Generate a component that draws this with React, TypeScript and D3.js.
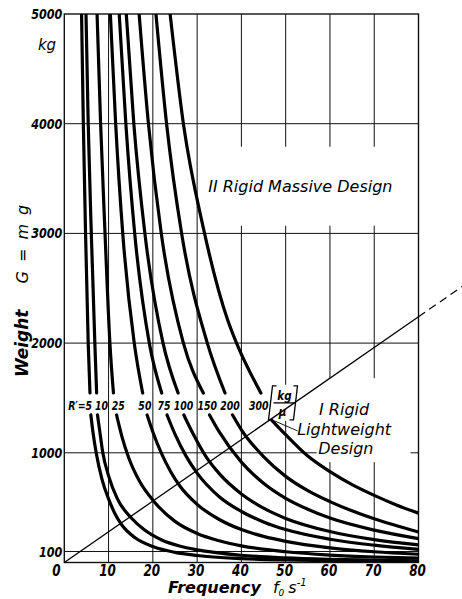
import * as d3 from 'd3';

type Pt = [number, number] | null;

// frequency f0 (s^-1) vs weight G (kg); null = gap where the label sits
const r5: Pt[] = [[3.9, 5000], [4.3, 4000], [4.8, 3000], [5.4, 2000], [5.8, 1545], null, [6.0, 1345], [6.5, 1180], [7.2, 1000], [8.5, 760], [10, 580], [11.5, 440], [13, 342], [16, 225], [20, 145], [25, 92], [30, 64], [40, 36], [50, 23], [60, 16], [70, 12], [80, 9]];
const r10: Pt[] = [[4.9, 5000], [5.4, 4000], [6.1, 3000], [6.9, 2000], [7.3, 1545], null, [7.5, 1345], [8.0, 1200], [8.7, 1000], [10, 790], [12, 580], [15.2, 403], [18, 300], [22, 205], [26, 150], [30, 115], [40, 66], [50, 42], [60, 29], [70, 21], [80, 16]];
const r25: Pt[] = [[7.4, 5000], [8.2, 4000], [9.2, 3000], [10.3, 2000], [11.1, 1545], null, [11.8, 1345], [13, 1150], [14.5, 960], [17, 740], [20.3, 554], [25, 375], [30, 265], [35, 198], [40, 152], [50, 98], [60, 68], [70, 50], [80, 39]];
const r50: Pt[] = [[10.4, 5000], [11.6, 4000], [13.2, 3000], [15.8, 2000], [17.7, 1545], null, [18.7, 1345], [20, 1190], [22, 990], [24, 830], [26.1, 697], [30, 530], [35, 392], [40, 300], [45, 238], [50, 193], [60, 134], [70, 98], [80, 75]];
const r75: Pt[] = [[12.4, 5000], [13.9, 4000], [15.9, 3000], [19.2, 2000], [22.0, 1545], null, [23.2, 1345], [25, 1170], [27.5, 970], [30, 815], [35, 600], [40, 465], [45, 370], [50, 300], [60, 212], [70, 158], [80, 120]];
const r100: Pt[] = [[14.0, 5000], [15.7, 4000], [18.2, 3000], [22.3, 2000], [25.7, 1545], null, [27.0, 1345], [29, 1180], [32, 965], [35, 810], [40, 625], [45, 495], [50, 402], [60, 282], [70, 208], [80, 160]];
const r150: Pt[] = [[16.9, 5000], [19.0, 4000], [21.9, 3000], [26.9, 2000], [31.4, 1545], null, [32.8, 1345], [35, 1190], [40, 915], [45, 722], [50, 585], [55, 485], [60, 405], [70, 295], [80, 218]];
const r200: Pt[] = [[20.7, 5000], [23.1, 4000], [26.5, 3000], [32.3, 2000], [36.3, 1545], null, [38.0, 1345], [40, 1210], [45, 965], [50, 785], [55, 655], [60, 555], [70, 398], [80, 278]];
const r300: Pt[] = [[23.9, 5000], [26.9, 4000], [31.4, 3050], [36.9, 2210], [39.0, 1990], [44.4, 1545], null, [46.8, 1300], [50, 1165], [55, 970], [60, 828], [65, 710], [70, 612], [75, 525], [80, 450]];

const curves = [r5, r10, r25, r50, r75, r100, r150, r200, r300];
const curveLabels = ['5', '10', '25', '50', '75', '100', '150', '200', '300'];
const labelF = [5.5, 8.4, 12.2, 18.2, 22.5, 26.9, 32.3, 37.4, 43.9];

// boundary line between the two design regions
const diagonal: [number, number][] = [[0, 0], [80, 2240]];
const diagonalExt: [number, number][] = [[80, 2240], [90, 2520]];

const xTicks = [0, 10, 20, 30, 40, 50, 60, 70, 80];
const yTicks = [100, 1000, 2000, 3000, 4000, 5000];

const W = 462;
const H = 599;

const tickFont = "'DejaVu Sans',sans-serif";
const textFont = "'DejaVu Sans',sans-serif";

// narrow bold italic text like the printed tick labels
function Narrow(props: { x: number; y: number; size: number; sx?: number; anchor?: string; children: any }) {
  const { x, y, size, sx = 0.8, anchor = 'middle', children } = props;
  return (
    <text
      transform={`translate(${x},${y}) scale(${sx},1)`}
      fontFamily={tickFont}
      fontWeight="bold"
      fontStyle="italic"
      fontSize={size}
      textAnchor={anchor}
    >
      {children}
    </text>
  );
}

export default function App() {
  const x = d3.scaleLinear().domain([0, 80]).range([64.3, 418.5]);
  const y = d3.scaleLinear().domain([0, 5000]).range([562.5, 14]);

  const line = d3.line<Pt>()
    .defined((d) => d !== null)
    .x((d) => x(d![0]))
    .y((d) => y(d![1]))
    .curve(d3.curveMonotoneX);

  const straight = d3.line<[number, number]>()
    .x((d) => x(d[0]))
    .y((d) => y(d[1]));

  // anchor of the [kg/µ] bracket (where curve 300 meets the boundary line)
  const bx = x(46.8);
  const by = y(1300);

  return (
    <svg width={W} height={H} style={{ position: 'absolute', left: 0, top: 0, background: '#fff' }}>
      <defs>
        <clipPath id="plot">
          <rect x={x(0)} y={y(5000)} width={x(80) - x(0)} height={y(0) - y(5000)} />
        </clipPath>
      </defs>

      {/* grid */}
      <g stroke="#111" strokeWidth={1}>
        {xTicks.slice(1, -1).map((t) => (
          <line key={t} x1={x(t)} x2={x(t)} y1={y(0)} y2={y(5000)} />
        ))}
        {yTicks.slice(0, -1).map((t) => (
          <line key={t} x1={x(0)} x2={x(80)} y1={y(t)} y2={y(t)} />
        ))}
      </g>

      {/* blank areas behind the region captions */}
      <g fill="#fff">
        <rect x={x(32)} y={y(3790)} width={x(79.4) - x(32)} height={y(3070) - y(3790)} />
        <rect x={x(57)} y={y(1680)} width={x(78.2) - x(57)} height={y(915) - y(1680)} />
        <rect x={x(46.2)} y={y(1620)} width={x(52.8) - x(46.2)} height={y(1290) - y(1620)} />
      </g>

      <rect x={x(0)} y={y(5000)} width={x(80) - x(0)} height={y(0) - y(5000)} fill="none" stroke="#111" strokeWidth={1.4} />

      {/* curves */}
      <g clipPath="url(#plot)" fill="none" stroke="#000" strokeWidth={3.2} strokeLinecap="round">
        {curves.map((c, i) => (
          <path key={i} d={line(c) || ''} />
        ))}
      </g>

      <path d={straight(diagonal) || ''} fill="none" stroke="#000" strokeWidth={1.3} />
      <path d={straight(diagonalExt) || ''} fill="none" stroke="#000" strokeWidth={1.2} strokeDasharray="8,5" />

      {/* y axis */}
      {yTicks.map((t) => (
        <Narrow key={t} x={x(0) - 2} y={y(t) + 5} size={14} anchor="end">{t}</Narrow>
      ))}
      <text x={47} y={50} fontFamily={textFont} fontStyle="italic" fontSize={15} textAnchor="middle">kg</text>

      {/* x axis */}
      {xTicks.map((t) => (
        <Narrow key={t} x={t === 0 ? x(t) - 8 : x(t) - 1} y={576} size={15}>{t}</Narrow>
      ))}

      <text x={168} y={593} fontFamily={textFont} fontSize={16} fontStyle="italic" fontWeight="bold">
        Frequency
        <tspan dx={12} fontWeight="normal">f</tspan>
        <tspan fontSize={9} dy={3} fontWeight="normal">0</tspan>
        <tspan dx={4} dy={-3} fontWeight="normal">s</tspan>
        <tspan fontSize={10} dy={-7} fontWeight="normal">-1</tspan>
      </text>

      <text transform="translate(28,377) rotate(-90)" fontFamily={textFont} fontSize={17} fontStyle="italic" fontWeight="bold">
        Weight
        <tspan dx={26} fontWeight="normal" fontSize={16} letterSpacing={2}>G = m g</tspan>
      </text>

      {/* curve labels */}
      {curveLabels.map((l, i) => (
        <Narrow key={l} x={x(labelF[i])} y={y(1390)} size={13} sx={0.72}>{l}</Narrow>
      ))}
      <Narrow x={x(labelF[0]) - 3} y={y(1390)} size={13} sx={0.72} anchor="end">R′=</Narrow>

      {/* [kg/µ] unit bracket */}
      <g fill="none" stroke="#000" strokeWidth={1.3}>
        <path d={`M${bx + 5},${by - 34} L${bx + 1},${by - 34} L${bx - 3},${by} L${bx + 1},${by}`} />
        <path d={`M${bx + 22},${by - 34} L${bx + 26},${by - 34} L${bx + 22},${by} L${bx + 18},${by}`} />
        <path d={`M${bx + 2},${by - 17} L${bx + 23},${by - 17}`} />
        <path d={`M${bx + 3},${by + 1} L${bx + 26},${by + 11}`} strokeWidth={0.9} />
      </g>
      <Narrow x={bx + 13} y={by - 20} size={13}>kg</Narrow>
      <Narrow x={bx + 11} y={by - 4} size={13}>µ</Narrow>

      {/* region captions */}
      <text x={x(32.5)} y={y(3375)} fontFamily={textFont} fontStyle="italic" fontSize={16}>II Rigid Massive Design</text>
      <g fontFamily={textFont} fontStyle="italic" fontSize={16} textAnchor="middle">
        <text x={x(63.2)} y={415}>I Rigid</text>
        <text x={x(63.2)} y={435}>Lightweight</text>
        <text x={x(63.6)} y={454}>Design</text>
      </g>
    </svg>
  );
}
